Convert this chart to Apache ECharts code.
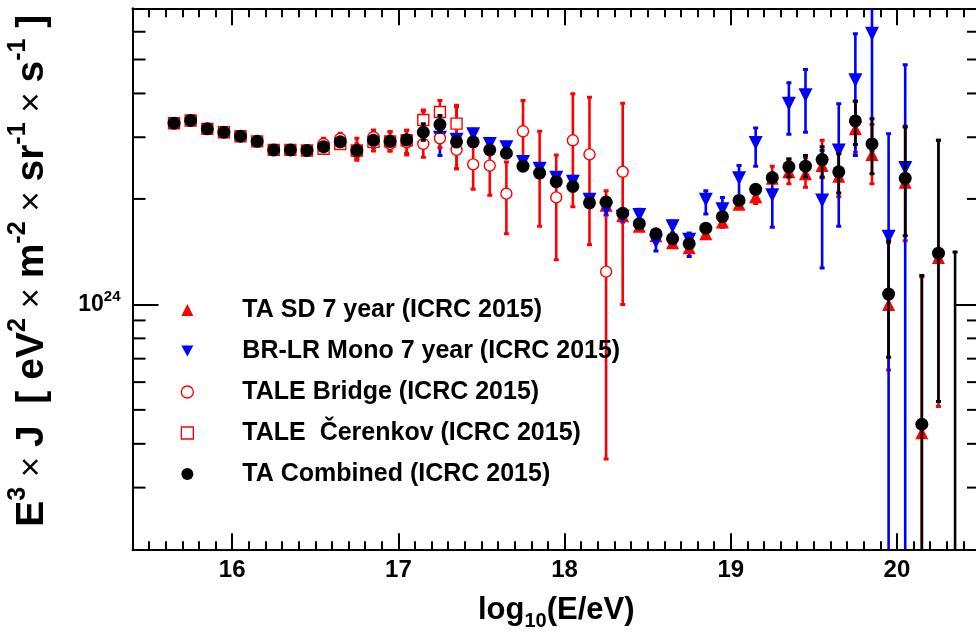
<!DOCTYPE html>
<html>
<head>
<meta charset="utf-8">
<script src="https://cdn.jsdelivr.net/npm/echarts@6/dist/echarts.min.js"></script>
<style>
html,body{margin:0;padding:0;background:#fff;}
#chart{width:976px;height:640px;}
</style>
</head>
<body>
<div id="chart"></div>
<script>
// values are in units of 10^24 eV^2 m^-2 sr^-1 s^-1
const UNIT = 1e24;
const X_MIN = 15.4, X_MAX = 20.5;
const Y_MIN = 0.2, Y_MAX = 7.0;

const X_MAJOR_TICKS = [16, 17, 18, 19, 20];
const X_MINOR_TICKS = [15.5, 15.6, 15.7, 15.8, 15.9,
  16.1, 16.2, 16.3, 16.4, 16.5, 16.6, 16.7, 16.8, 16.9,
  17.1, 17.2, 17.3, 17.4, 17.5, 17.6, 17.7, 17.8, 17.9,
  18.1, 18.2, 18.3, 18.4, 18.5, 18.6, 18.7, 18.8, 18.9,
  19.1, 19.2, 19.3, 19.4, 19.5, 19.6, 19.7, 19.8, 19.9,
  20.1, 20.2, 20.3, 20.4];
const Y_MINOR_TICKS = [0.3, 0.4, 0.5, 0.6, 0.7, 0.8, 0.9, 2, 3, 4, 5, 6];

// TA SD 7 year (ICRC 2015)
const sd_x  = [18.25, 18.35, 18.45, 18.55, 18.65, 18.75, 18.85, 18.95, 19.05, 19.15, 19.25, 19.35, 19.45, 19.55, 19.65, 19.75, 19.85, 19.95, 20.05, 20.15, 20.25];
const sd_y  = [1.92, 1.79, 1.67, 1.57, 1.50, 1.45, 1.59, 1.72, 1.93, 2.03, 2.29, 2.39, 2.36, 2.49, 2.32, 3.17, 2.68, 1.00, 2.23, 0.43, 1.36];
const sd_lo = [1.88, 1.75, 1.63, 1.53, 1.46, 1.41, 1.55, 1.68, 1.88, 1.94, 2.22, 2.21, 2.16, 2.30, 2.03, 2.72, 2.21, 0.65, 1.52, 0.10, 0.511];
const sd_hi = [1.96, 1.83, 1.71, 1.61, 1.54, 1.49, 1.63, 1.77, 1.98, 2.12, 2.48, 2.60, 2.62, 2.94, 2.70, 3.80, 3.26, 1.50, 3.23, 1.20, 2.94];

// BR-LR Mono 7 year (ICRC 2015)
const br_x  = [17.25, 17.35, 17.45, 17.55, 17.65, 17.75, 17.85, 17.95, 18.05, 18.15, 18.25, 18.35, 18.45, 18.55, 18.65, 18.75, 18.85, 18.95, 19.05, 19.15, 19.25, 19.35, 19.45, 19.55, 19.65, 19.75, 19.85, 19.95, 20.05];
const br_y  = [2.99, 2.95, 3.06, 2.87, 2.81, 2.55, 2.44, 2.30, 2.24, 1.99, 1.87, 1.78, 1.80, 1.51, 1.67, 1.53, 1.99, 1.87, 2.29, 2.89, 2.05, 3.74, 3.95, 1.98, 2.75, 4.36, 5.92, 1.56, 2.45];
const br_lo = [2.66, 2.85, 2.96, 2.79, 2.73, 2.48, 2.37, 2.23, 2.16, 1.92, 1.80, 1.72, 1.74, 1.42, 1.60, 1.37, 1.81, 1.66, 2.03, 2.48, 1.66, 3.06, 3.10, 1.27, 1.67, 2.66, 2.75, 0.05, 0.05];
const br_hi = [3.20, 3.05, 3.16, 2.95, 2.89, 2.62, 2.51, 2.37, 2.32, 2.06, 1.94, 1.85, 1.87, 1.60, 1.73, 1.60, 2.11, 2.02, 2.49, 3.19, 2.30, 4.29, 4.68, 2.75, 3.74, 5.92, 9.00, 3.07, 4.83];

// TALE Bridge (ICRC 2015)
const tb_x  = [16.55, 16.65, 16.75, 16.85, 16.95, 17.05, 17.15, 17.25, 17.35, 17.45, 17.55, 17.65, 17.75, 17.85, 17.95, 18.05, 18.15, 18.25, 18.35];
const tb_y  = [2.87, 2.97, 2.72, 3.00, 2.87, 2.90, 2.87, 2.98, 2.76, 2.51, 2.49, 2.07, 3.12, 2.37, 2.02, 2.94, 2.68, 1.24, 2.39];
const tb_lo = [2.76, 2.86, 2.58, 2.80, 2.74, 2.70, 2.63, 2.80, 2.44, 2.13, 2.05, 1.59, 2.48, 1.67, 1.34, 1.90, 1.48, 0.362, 1.00];
const tb_hi = [2.98, 3.08, 2.87, 3.14, 3.11, 3.14, 3.59, 3.20, 3.66, 3.10, 2.94, 2.55, 3.82, 3.12, 2.67, 3.99, 3.90, 2.11, 3.75];

// TALE Cerenkov (ICRC 2015)
const tc_x  = [15.65, 15.75, 15.85, 15.95, 16.05, 16.15, 16.25, 16.35, 16.45, 16.55, 16.65, 16.75, 16.85, 16.95, 17.05, 17.15, 17.25, 17.35];
const tc_y  = [3.29, 3.35, 3.17, 3.10, 3.02, 2.92, 2.76, 2.76, 2.75, 2.78, 2.87, 2.75, 2.91, 2.92, 2.94, 3.36, 3.54, 3.28];
const tc_lo = [3.24, 3.30, 3.12, 3.05, 2.97, 2.87, 2.71, 2.71, 2.70, 2.70, 2.79, 2.60, 2.74, 2.74, 2.67, 3.05, 3.20, 2.44];
const tc_hi = [3.34, 3.40, 3.22, 3.15, 3.07, 2.97, 2.81, 2.81, 2.80, 2.86, 2.95, 2.98, 3.14, 3.11, 3.14, 3.56, 3.82, 3.70];

// TA Combined (ICRC 2015)
const cb_x  = [15.65, 15.75, 15.85, 15.95, 16.05, 16.15, 16.25, 16.35, 16.45, 16.55, 16.65, 16.75, 16.85, 16.95, 17.05, 17.15, 17.25, 17.35, 17.45, 17.55, 17.65, 17.75, 17.85, 17.95, 18.05, 18.15, 18.25, 18.35, 18.45, 18.55, 18.65, 18.75, 18.85, 18.95, 19.05, 19.15, 19.25, 19.35, 19.45, 19.55, 19.65, 19.75, 19.85, 19.95, 20.05, 20.15, 20.25, 20.35];
const cb_y  = [3.29, 3.35, 3.17, 3.10, 3.02, 2.92, 2.76, 2.76, 2.75, 2.82, 2.91, 2.75, 2.94, 2.92, 2.95, 3.10, 3.26, 2.91, 2.91, 2.76, 2.70, 2.48, 2.37, 2.24, 2.17, 1.95, 1.96, 1.82, 1.70, 1.59, 1.54, 1.49, 1.65, 1.78, 1.98, 2.13, 2.30, 2.47, 2.48, 2.59, 2.39, 3.34, 2.87, 1.07, 2.29, 0.455, 1.40, 0.15];
const cb_lo = [3.25, 3.31, 3.13, 3.06, 2.98, 2.88, 2.72, 2.72, 2.71, 2.77, 2.86, 2.69, 2.87, 2.85, 2.87, 2.94, 3.10, 2.82, 2.83, 2.69, 2.64, 2.43, 2.32, 2.19, 2.12, 1.91, 1.92, 1.78, 1.67, 1.56, 1.51, 1.46, 1.62, 1.75, 1.94, 2.08, 2.24, 2.31, 2.31, 2.31, 2.08, 2.86, 2.36, 0.706, 1.57, 0.10, 0.528, 0.05];
const cb_hi = [3.33, 3.39, 3.21, 3.14, 3.06, 2.96, 2.80, 2.80, 2.79, 2.87, 2.96, 2.81, 3.01, 2.99, 3.03, 3.28, 3.46, 3.00, 2.99, 2.83, 2.76, 2.53, 2.42, 2.29, 2.22, 1.99, 2.00, 1.86, 1.73, 1.62, 1.57, 1.52, 1.68, 1.81, 2.02, 2.18, 2.37, 2.60, 2.66, 2.82, 2.69, 3.80, 3.39, 1.52, 3.21, 1.21, 2.94, 1.41];

const NAMES = ['TA SD 7 year (ICRC 2015)', 'BR-LR Mono 7 year (ICRC 2015)', 'TALE Bridge (ICRC 2015)', 'TALE  Čerenkov (ICRC 2015)', 'TA Combined (ICRC 2015)'];
const RED = '#ff0000', BLUE = '#0000ff', BLACK = '#000000';

function pts(xs, ys) { return xs.map((x, i) => [x, ys[i] * UNIT]); }
function errPts(xs, lo, hi) { return xs.map((x, i) => [x, lo[i] * UNIT, hi[i] * UNIT]); }

function errorSeries(id, xs, lo, hi, color, z) {
  return {
    type: 'custom', id: id, name: id, clip: true, silent: true, z: z,
    xAxisIndex: 0, yAxisIndex: 0,
    encode: { x: 0, y: [1, 2] },
    data: errPts(xs, lo, hi),
    renderItem: function (params, api) {
      const x = api.value(0);
      const a = api.coord([x, api.value(1)]);
      const b = api.coord([x, api.value(2)]);
      return {
        type: 'group',
        children: [
          { type: 'line', shape: { x1: a[0], y1: a[1], x2: b[0], y2: b[1] }, style: { stroke: color, lineWidth: 2.6 } },
          { type: 'rect', shape: { x: a[0] - 2.5, y: a[1] - 1.5, width: 5, height: 3 }, style: { fill: color } },
          { type: 'rect', shape: { x: b[0] - 2.5, y: b[1] - 1.5, width: 5, height: 3 }, style: { fill: color } }
        ]
      };
    }
  };
}

const FONT = 'Liberation Sans';

const chart = echarts.init(document.getElementById('chart'), null, { renderer: 'canvas' });

const xBase = { type: 'value', min: X_MIN, max: X_MAX, gridIndex: 0, splitLine: { show: false } };
const yBase = { type: 'log', logBase: 10, min: Y_MIN * UNIT, max: Y_MAX * UNIT, gridIndex: 0, splitLine: { show: false } };

const option = {
  backgroundColor: '#ffffff',
  animation: false,
  grid: { left: 132.5, width: 847.5, top: 8.3, height: 541, containLabel: false, outerBoundsMode: 'none' },
  xAxis: [
    Object.assign({}, xBase, {
      position: 'bottom',
      axisLine: { show: true, onZero: false, lineStyle: { color: BLACK, width: 2 } },
      axisTick: { show: true, inside: true, length: 16, customValues: X_MAJOR_TICKS, lineStyle: { color: BLACK, width: 2 } },
      axisLabel: { show: true, customValues: X_MAJOR_TICKS, margin: 9, color: BLACK, fontFamily: FONT, fontWeight: 'bold', fontSize: 24 },
      name: '{n|log}{sub|10}{n|(E/eV)}',
      nameLocation: 'middle', nameGap: 40,
      nameTextStyle: {
        rich: {
          n: { fontFamily: FONT, fontWeight: 'bold', fontSize: 31, color: BLACK },
          sub: { fontFamily: FONT, fontWeight: 'bold', fontSize: 20, color: BLACK, padding: [22, 0, 0, 0] }
        }
      }
    }),
    Object.assign({}, xBase, {
      position: 'bottom',
      axisLine: { show: false, onZero: false },
      axisTick: { show: true, inside: true, length: 8, customValues: X_MINOR_TICKS, lineStyle: { color: BLACK, width: 2 } },
      axisLabel: { show: false }
    }),
    Object.assign({}, xBase, {
      position: 'top',
      axisLine: { show: true, onZero: false, lineStyle: { color: BLACK, width: 2 } },
      axisTick: { show: true, inside: true, length: 17, customValues: X_MAJOR_TICKS, lineStyle: { color: BLACK, width: 2 } },
      axisLabel: { show: false }
    }),
    Object.assign({}, xBase, {
      position: 'top',
      axisLine: { show: false, onZero: false },
      axisTick: { show: true, inside: true, length: 9, customValues: X_MINOR_TICKS, lineStyle: { color: BLACK, width: 2 } },
      axisLabel: { show: false }
    })
  ],
  yAxis: [
    Object.assign({}, yBase, {
      position: 'left',
      axisLine: { show: true, onZero: false, lineStyle: { color: BLACK, width: 2 } },
      axisTick: { show: true, inside: true, length: 26, lineStyle: { color: BLACK, width: 2 } },
      axisLabel: {
        show: true, margin: 12, color: BLACK,
        showMinLabel: false, showMaxLabel: false,
        formatter: function (v) {
          const e = Math.round(Math.log10(v));
          if (Math.abs(v / Math.pow(10, e) - 1) > 1e-6) return '';
          return '{b|10}{s|' + e + '}';
        },
        rich: {
          b: { fontFamily: FONT, fontWeight: 'bold', fontSize: 23, color: BLACK },
          s: { fontFamily: FONT, fontWeight: 'bold', fontSize: 15, color: BLACK, padding: [0, 0, 15, 0] }
        }
      },
      name: '{n|E}{s|3}{x| × }{n|J  [ eV}{s|2}{x| × }{n|m}{s|-2}{x| × }{n|sr}{s|-1}{x| × }{n|s}{s|-1}{n| ]}',
      nameLocation: 'middle', nameRotate: 90, nameGap: 74,
      nameTextStyle: {
        padding: [0, 0, 0, 16],
        rich: {
          n: { fontFamily: FONT, fontWeight: 'bold', fontSize: 39, color: BLACK },
          x: { fontFamily: FONT, fontWeight: 'normal', fontSize: 35, color: BLACK },
          s: { fontFamily: FONT, fontWeight: 'bold', fontSize: 25, color: BLACK, padding: [0, 0, 28, 0] }
        }
      }
    }),
    Object.assign({}, yBase, {
      position: 'right',
      axisLine: { show: true, onZero: false, lineStyle: { color: BLACK, width: 2 } },
      axisTick: { show: true, inside: true, length: 26, lineStyle: { color: BLACK, width: 2 } },
      axisLabel: { show: false }
    })
  ],
  legend: {
    show: true, orient: 'vertical', left: 180.7, top: 296, padding: 0,
    itemWidth: 12, itemHeight: 12, itemGap: 13, selectedMode: false,
    textStyle: { fontFamily: FONT, fontWeight: 'bold', fontSize: 25, color: BLACK, lineHeight: 28, padding: [0, 0, 0, 44] },
    data: [
      { name: NAMES[0], icon: 'triangle', itemStyle: { color: RED, borderWidth: 0 } },
      { name: NAMES[1], icon: 'path://M0,0L10,0L5,9Z', itemStyle: { color: BLUE, borderWidth: 0 } },
      { name: NAMES[2], icon: 'circle', itemStyle: { color: '#ffffff', borderColor: RED, borderWidth: 1.3 } },
      { name: NAMES[3], icon: 'rect', itemStyle: { color: '#ffffff', borderColor: RED, borderWidth: 1.3 } },
      { name: NAMES[4], icon: 'circle', itemStyle: { color: BLACK, borderWidth: 0 } }
    ]
  },
  series: [
    // minor y ticks on both sides of the frame
    {
      type: 'custom', id: 'yMinorTicks', silent: true, clip: false, z: 10,
      xAxisIndex: 0, yAxisIndex: 0,
      data: Y_MINOR_TICKS.map(v => [X_MIN, v * UNIT]),
      renderItem: function (params, api) {
        const cs = params.coordSys;
        const y = api.coord([api.value(0), api.value(1)])[1];
        return {
          type: 'group',
          children: [
            { type: 'line', shape: { x1: cs.x, y1: y, x2: cs.x + 13, y2: y }, style: { stroke: BLACK, lineWidth: 2 } },
            { type: 'line', shape: { x1: cs.x + cs.width - 13, y1: y, x2: cs.x + cs.width, y2: y }, style: { stroke: BLACK, lineWidth: 2 } }
          ]
        };
      }
    },
    errorSeries('sdErr', sd_x, sd_lo, sd_hi, RED, 2),
    { type: 'scatter', name: NAMES[0], z: 3, symbol: 'triangle', symbolSize: 13, clip: true,
      itemStyle: { color: RED, opacity: 1 }, data: pts(sd_x, sd_y) },
    errorSeries('brErr', br_x, br_lo, br_hi, BLUE, 2),
    { type: 'scatter', name: NAMES[1], z: 3, symbol: 'triangle', symbolRotate: 180, symbolSize: 14, clip: true,
      itemStyle: { color: BLUE, opacity: 1 }, data: pts(br_x, br_y) },
    errorSeries('tbErr', tb_x, tb_lo, tb_hi, RED, 2),
    { type: 'scatter', name: NAMES[2], z: 3, symbol: 'circle', symbolSize: 11, clip: true,
      itemStyle: { color: '#ffffff', borderColor: RED, borderWidth: 1.4, opacity: 1 }, data: pts(tb_x, tb_y) },
    errorSeries('tcErr', tc_x, tc_lo, tc_hi, RED, 2),
    { type: 'scatter', name: NAMES[3], z: 3, symbol: 'rect', symbolSize: 11, clip: true,
      itemStyle: { color: '#ffffff', borderColor: RED, borderWidth: 1.4, opacity: 1 }, data: pts(tc_x, tc_y) },
    errorSeries('cbErr', cb_x, cb_lo, cb_hi, BLACK, 4),
    { type: 'scatter', name: NAMES[4], z: 5, symbol: 'circle', symbolSize: 13, clip: true,
      itemStyle: { color: BLACK, opacity: 1 }, data: pts(cb_x, cb_y) }
  ]
};

chart.setOption(option);
</script>
</body>
</html>
